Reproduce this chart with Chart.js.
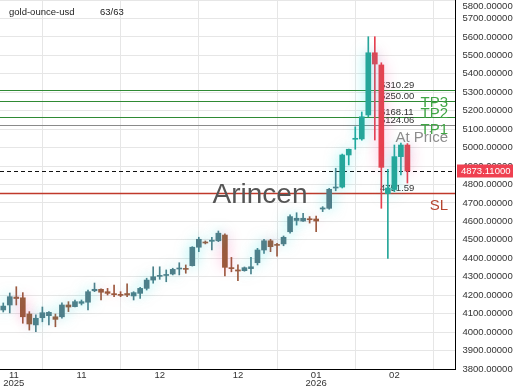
<!DOCTYPE html>
<html>
<head>
<meta charset="utf-8">
<script src="https://cdn.jsdelivr.net/npm/chart.js@4/dist/chart.umd.min.js"></script>
<style>
  html, body { margin: 0; padding: 0; background: #fff; }
  #wrap { width: 520px; height: 390px; }
</style>
</head>
<body>
<div id="wrap"><canvas id="chart" width="520" height="390"></canvas></div>
<script>
// Daily candles (gold-ounce-usd)
const OPEN  = [4120, 4147, 4190, 4186, 4098, 4039, 4078, 4089, 4083, 4083,
               4147, 4138, 4156, 4162, 4224, 4232, 4219, 4208, 4203, 4209,
               4196, 4210, 4237, 4282, 4302, 4307, 4315, 4342, 4345, 4360,
               4460, 4487, 4492, 4495, 4526, 4347, 4337, 4333, 4344, 4376,
               4445, 4495, 4475, 4478, 4544, 4605, 4602, 4613, 4613, 4667,
               4671, 4781, 4786, 4960, 5045, 5047, 5177, 5514, 5448, 4751,
               4773, 4951, 5014];
const HIGH  = [4158, 4212, 4246, 4214, 4111, 4093, 4136, 4111, 4098, 4158,
               4165, 4174, 4174, 4228, 4266, 4234, 4237, 4255, 4219, 4261,
               4219, 4243, 4292, 4354, 4354, 4337, 4346, 4376, 4364, 4463,
               4514, 4494, 4514, 4548, 4532, 4405, 4364, 4353, 4405, 4454,
               4503, 4503, 4481, 4521, 4635, 4647, 4644, 4626, 4629, 4680,
               4779, 4888, 4965, 4992, 5113, 5193, 5601, 5601, 5460, 4882,
               5014, 5025, 5022];
const LOW   = [4109, 4104, 4147, 4048, 4011, 4002, 4056, 4039, 4029, 4076,
               4111, 4136, 4147, 4120, 4219, 4174, 4201, 4192, 4192, 4192,
               4174, 4183, 4228, 4265, 4286, 4273, 4310, 4310, 4319, 4358,
               4436, 4478, 4445, 4490, 4304, 4327, 4279, 4330, 4315, 4364,
               4427, 4436, 4412, 4468, 4536, 4580, 4600, 4591, 4544, 4653,
               4666, 4766, 4781, 4906, 4991, 5040, 5167, 5041, 4671, 4400,
               4761, 4852, 4808];
const CLOSE = [4141, 4192, 4182, 4083, 4044, 4075, 4105, 4107, 4069, 4147,
               4136, 4165, 4165, 4219, 4232, 4216, 4210, 4203, 4199, 4201,
               4214, 4237, 4282, 4300, 4306, 4310, 4340, 4346, 4340, 4460,
               4503, 4483, 4498, 4536, 4351, 4344, 4331, 4349, 4354, 4445,
               4495, 4463, 4470, 4514, 4626, 4617, 4617, 4609, 4602, 4673,
               4774, 4786, 4960, 4991, 5050, 5167, 5514, 5453, 4893, 4781,
               4951, 5014, 4873.11];

const X_TICK_POS = [0, 12, 24, 36, 48, 60];
const X_TICK_LABELS = [['11', '2025'], '11', '12', '12', ['01', '2026'], '02'];

const LEVEL_VALUES = [5310.29, 5250.00, 5168.11, 5124.06, 4751.59];
const LEVEL_NAMES = ['TP3', 'TP2', 'TP1', 'At Price', 'SL'];
const LAST_PRICE = 4873.11;

const SYMBOL = 'gold-ounce-usd';
const COUNTER = '63/63';
const WATERMARK = 'Arincen';

// Styles
const FONT = '"Liberation Sans", Arial, sans-serif';
const FADE_UNTIL = 51;           // older candles drawn in muted colours
const LEVEL_LINE_COLORS = ['#2f8a34', '#2f8a34', '#2f8a34', '#8a8a8a', '#c0392b'];
const LEVEL_LINE_WIDTHS = [1, 1, 1, 1, 1.5];
const LEVEL_TEXT_COLORS = ['#3fa544', '#3fa544', '#3fa544', '#8c8c8c', '#b5452f'];

Chart.defaults.font.family = FONT;

const idx = OPEN.map((_, i) => i);
const isUp = i => CLOSE[i] >= OPEN[i];
const isDown = i => !isUp(i);

function candleColor(i) {
    if (i <= FADE_UNTIL) return isUp(i) ? '#4f7f8a' : '#9c5a3e';
    return isUp(i) ? '#26a69a' : '#e8404f';
}

function bodies(filter) {
    const ids = idx.filter(filter);
    return {
        data: ids.map(i => ({ x: i, y: [OPEN[i], CLOSE[i]] })),
        backgroundColor: ids.map(candleColor)
    };
}
function wicks(filter) {
    const ids = idx.filter(filter);
    return {
        data: ids.map(i => ({ x: i, y: [LOW[i], HIGH[i]] })),
        backgroundColor: ids.map(candleColor)
    };
}

// Soft glow behind candles
const glowPlugin = {
    id: 'glow',
    beforeDatasetDraw(chart, args) {
        const glow = chart.data.datasets[args.index].glowColor;
        if (!glow) return;
        chart.ctx.save();
        chart.ctx.shadowColor = glow;
        chart.ctx.shadowBlur = 14;
    },
    afterDatasetDraw(chart, args) {
        if (chart.data.datasets[args.index].glowColor) chart.ctx.restore();
    }
};

// Level lines, labels, watermark and price tag
const overlayPlugin = {
    id: 'overlay',
    beforeDatasetsDraw(chart) {
        const { ctx, chartArea: a, scales: { y } } = chart;
        ctx.save();
        ctx.beginPath();
        ctx.rect(a.left, a.top, a.right - a.left, a.bottom - a.top);
        ctx.clip();

        LEVEL_VALUES.forEach((v, k) => {
            const py = Math.round(y.getPixelForValue(v)) + 0.5;
            ctx.strokeStyle = LEVEL_LINE_COLORS[k];
            ctx.lineWidth = LEVEL_LINE_WIDTHS[k];
            ctx.beginPath();
            ctx.moveTo(a.left, py);
            ctx.lineTo(a.right, py);
            ctx.stroke();

            ctx.fillStyle = '#333';
            ctx.font = '9.5px ' + FONT;
            ctx.textAlign = 'left';
            ctx.textBaseline = 'alphabetic';
            ctx.fillText(v.toFixed(2), a.left + 380, py - 3);
        });

        // last price dashed line
        const lp = Math.round(y.getPixelForValue(LAST_PRICE)) + 0.5;
        ctx.strokeStyle = '#111';
        ctx.lineWidth = 1;
        ctx.setLineDash([4, 3]);
        ctx.beginPath();
        ctx.moveTo(a.left, lp);
        ctx.lineTo(a.right, lp);
        ctx.stroke();
        ctx.setLineDash([]);

        // top-left caption
        ctx.fillStyle = '#222';
        ctx.font = '9.5px ' + FONT;
        ctx.fillText(SYMBOL, a.left + 9, 15);
        ctx.fillText(COUNTER, a.left + 100, 15);
        ctx.restore();
    },
    afterDatasetsDraw(chart) {
        const { ctx, chartArea: a, scales: { y } } = chart;
        ctx.save();
        // watermark
        ctx.fillStyle = '#555';
        ctx.font = '28px ' + FONT;
        ctx.textAlign = 'center';
        ctx.textBaseline = 'alphabetic';
        ctx.fillText(WATERMARK, chart.width / 2, 203);

        // level names under their lines
        ctx.font = '15px ' + FONT;
        ctx.textAlign = 'right';
        LEVEL_VALUES.forEach((v, k) => {
            const py = y.getPixelForValue(v);
            ctx.fillStyle = LEVEL_TEXT_COLORS[k];
            ctx.fillText(LEVEL_NAMES[k], a.right - 7, py + 17);
        });
        ctx.restore();
    },
    afterDraw(chart) {
        const { ctx, chartArea: a, scales: { y } } = chart;
        ctx.save();
        // top axis label sits clipped against the edge
        ctx.fillStyle = '#333';
        ctx.font = '9.5px ' + FONT;
        ctx.textAlign = 'left';
        ctx.textBaseline = 'middle';
        ctx.fillText(y.max.toFixed(5), a.right + 7.5, 6);

        const py = y.getPixelForValue(LAST_PRICE);
        ctx.fillStyle = '#ef4050';
        ctx.fillRect(a.right + 2, py - 6.5, 56, 13);
        ctx.fillStyle = '#fff';
        ctx.fillText(LAST_PRICE.toFixed(5), a.right + 6, py + 0.5);
        ctx.restore();
    }
};

const upBodies = bodies(isUp);
const downBodies = bodies(isDown);
const upWicks = wicks(isUp);
const downWicks = wicks(isDown);

new Chart(document.getElementById('chart'), {
    type: 'bar',
    data: {
        datasets: [
            { ...upBodies, barThickness: 5, minBarLength: 1, grouped: false, glowColor: 'rgba(0, 230, 230, 0.5)' },
            { ...downBodies, barThickness: 5, minBarLength: 1, grouped: false, glowColor: 'rgba(255, 60, 150, 0.4)' },
            { ...upWicks, barThickness: 1, grouped: false },
            { ...downWicks, barThickness: 1, grouped: false }
        ]
    },
    options: {
        responsive: false,
        animation: false,
        layout: { padding: 0 },
        plugins: {
            legend: { display: false },
            tooltip: { enabled: false }
        },
        scales: {
            x: {
                type: 'linear',
                min: -0.5,
                max: 69.3,
                offset: false,
                grid: { color: '#e6e6e6', drawTicks: false },
                border: { color: '#000', width: 1 },
                afterBuildTicks: scale => {
                    scale.ticks = X_TICK_POS.map(v => ({ value: v }));
                },
                afterFit: scale => {
                    scale.height = 21;
                    scale.paddingLeft = 0;
                    scale.paddingRight = 0;
                },
                ticks: {
                    autoSkip: false,
                    maxRotation: 0,
                    padding: 2,
                    color: '#333',
                    font: { size: 9.5, lineHeight: 0.9 },
                    callback: (value, index) => {
                        const lbl = X_TICK_LABELS[index];
                        // first label sits against the left edge, push it inward
                        if (index === 0) {
                            const pad = ' '.repeat(8);
                            return [].concat(lbl).map(s => pad + s);
                        }
                        return lbl;
                    }
                }
            },
            y: {
                position: 'right',
                min: 3800,
                max: 5800,
                grid: { color: '#e6e6e6', drawTicks: false },
                border: { color: '#000', width: 1 },
                afterFit: scale => {
                    scale.width = 65;
                    scale.paddingTop = 0;
                    scale.paddingBottom = 0;
                },
                ticks: {
                    stepSize: 100,
                    padding: 7.5,
                    color: '#333',
                    font: { size: 9.5 },
                    callback: v => (v >= 5800 ? '' : v.toFixed(5))
                }
            }
        }
    },
    plugins: [glowPlugin, overlayPlugin]
});
</script>
</body>
</html>
